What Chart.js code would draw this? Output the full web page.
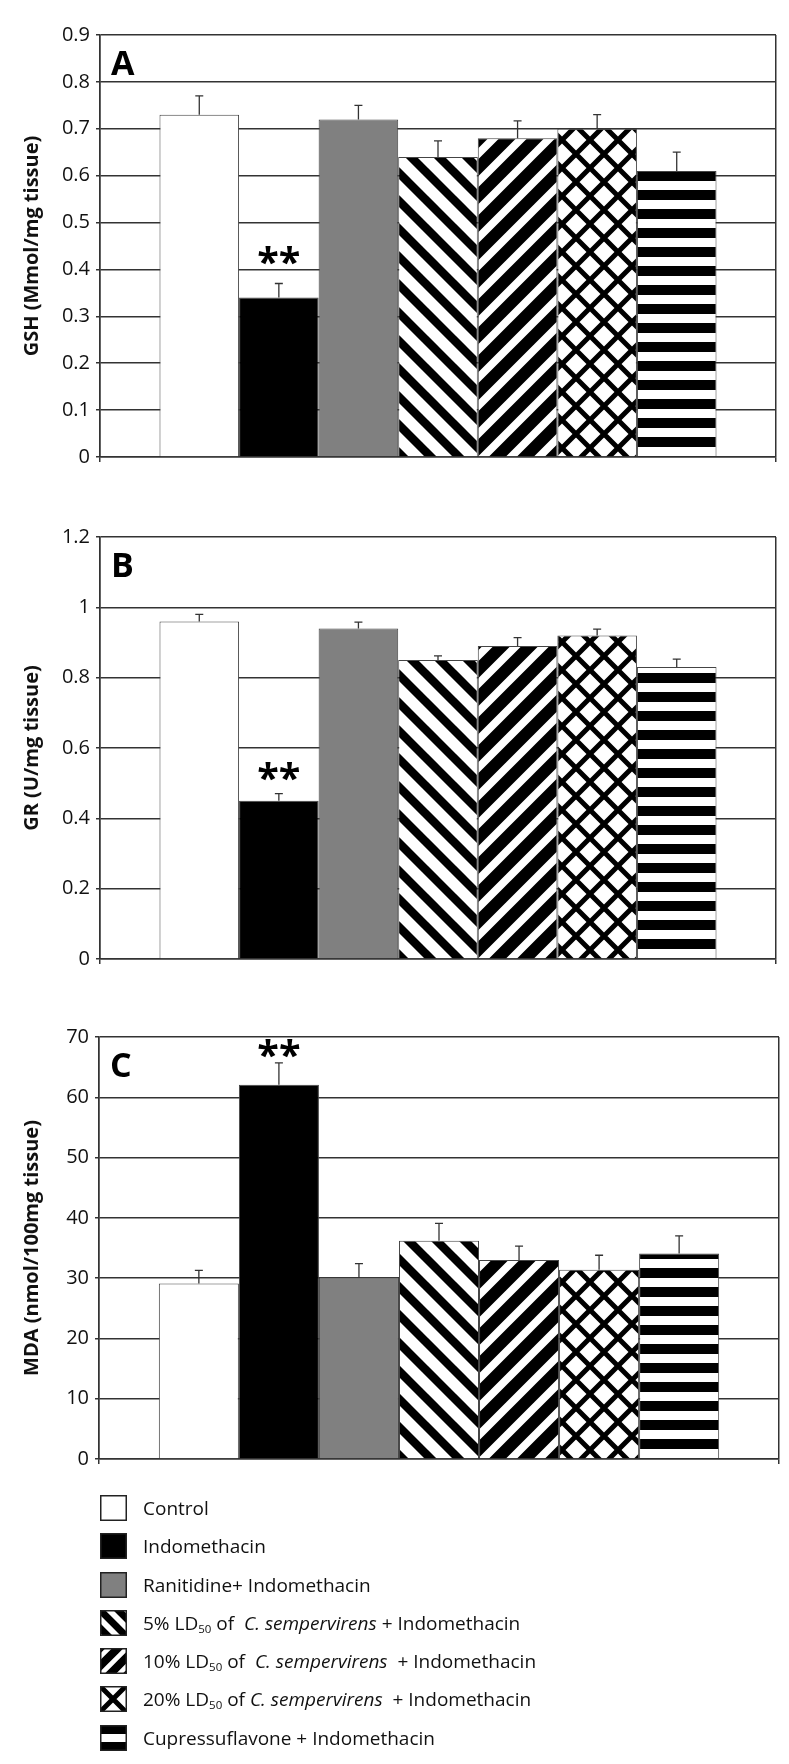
<!DOCTYPE html>
<html>
<head>
<meta charset="utf-8">
<script src="https://cdn.jsdelivr.net/npm/chart.js@4.4.1/dist/chart.umd.min.js"></script>
<style>
  html, body { margin: 0; padding: 0; background: #fff; }
  body { width: 789px; height: 1764px; position: relative; overflow: hidden; font-family: "Open Sans", sans-serif; color: #111; }
  .panel { position: absolute; left: 0; width: 789px; height: 475px; }
  #legend { position: absolute; left: 100px; top: 1495px; }
  .row { height: 38.3px; display: flex; align-items: flex-start; }
  .row canvas { display: block; }
  .row .lbl { margin-left: 16px; font-size: 19px; line-height: 26px; white-space: pre; }
  .sub { font-size: 11.5px; vertical-align: -3px; }
</style>
</head>
<body>
<div class="panel" style="top:0px"><canvas id="chart-a" width="789" height="475"></canvas></div>
<div class="panel" style="top:502px"><canvas id="chart-b" width="789" height="475"></canvas></div>
<div class="panel" style="top:1002px"><canvas id="chart-c" width="789" height="475"></canvas></div>
<div id="legend"></div>
<script>
'use strict';

const groups = [
  'Control',
  'Indomethacin',
  'Ranitidine+ Indomethacin',
  '5% LD50 of C. sempervirens + Indomethacin',
  '10% LD50 of C. sempervirens + Indomethacin',
  '20% LD50 of C. sempervirens + Indomethacin',
  'Cupressuflavone + Indomethacin'
];
const legendLabels = [
  'Control',
  'Indomethacin',
  'Ranitidine+ Indomethacin',
  '5% LD<span class="sub">50</span> of  <i>C. sempervirens</i> + Indomethacin',
  '10% LD<span class="sub">50</span> of  <i>C. sempervirens</i>  + Indomethacin',
  '20% LD<span class="sub">50</span> of <i>C. sempervirens</i>  + Indomethacin',
  'Cupressuflavone + Indomethacin'
];

// A: GSH
const gshMean = [0.73, 0.34, 0.72, 0.64, 0.68, 0.70, 0.61];
const gshErr  = [0.04, 0.03, 0.03, 0.034, 0.037, 0.03, 0.04];
const gshTicks = [0, 0.1, 0.2, 0.3, 0.4, 0.5, 0.6, 0.7, 0.8, 0.9];

// B: GR
const grMean = [0.96, 0.45, 0.94, 0.85, 0.89, 0.92, 0.83];
const grErr  = [0.02, 0.02, 0.018, 0.012, 0.024, 0.018, 0.023];
const grTicks = [0, 0.2, 0.4, 0.6, 0.8, 1, 1.2];

// C: MDA
const mdaMean = [29.1, 62.1, 30.1, 36.2, 33.0, 31.4, 34.1];
const mdaErr  = [2.2, 3.6, 2.3, 2.9, 2.3, 2.4, 2.9];
const mdaTicks = [0, 10, 20, 30, 40, 50, 60, 70];

const FONT = '"Open Sans"';

function makePattern(kind, S, w, shiftX) {
  const tile = document.createElement('canvas');
  tile.width = S; tile.height = S;
  const c = tile.getContext('2d');
  c.fillStyle = '#fff';
  c.fillRect(0, 0, S, S);
  c.strokeStyle = '#000';
  c.fillStyle = '#000';
  c.lineWidth = w;
  if (kind === 'horiz') {
    c.fillRect(0, 0, S, w);
  } else {
    c.beginPath();
    for (let k = -2; k <= 2; k++) {
      if (kind === 'back' || kind === 'cross') {
        c.moveTo(k * S - S, -S); c.lineTo(k * S + 2 * S, 2 * S);
      }
      if (kind === 'fwd' || kind === 'cross') {
        c.moveTo(k * S + S, -S); c.lineTo(k * S - 2 * S, 2 * S);
      }
    }
    c.stroke();
  }
  const pat = c.createPattern(tile, 'repeat');
  if (shiftX) pat.setTransform(new DOMMatrix().translate(shiftX, 0));
  return pat;
}

// the two diagonal fills meet in a chevron at the 5%/10% bar boundary
const fills = [
  '#ffffff', '#000000', '#808080',
  makePattern('back', 28, 8.5, 478),
  makePattern('fwd', 28, 12, 478),
  makePattern('cross', 28, 5, 478),
  makePattern('horiz', 19, 10)
];

const marksPlugin = {
  id: 'panelMarks',
  afterDatasetsDraw(chart, args, opts) {
    const { ctx, chartArea, scales: { y } } = chart;
    ctx.save();
    ctx.strokeStyle = '#333';
    ctx.lineWidth = 1.3;
    opts.err.forEach((e, i) => {
      const bar = chart.getDatasetMeta(i).data[0];
      const top = y.getPixelForValue(opts.mean[i] + e);
      ctx.beginPath();
      ctx.moveTo(bar.x, bar.y);
      ctx.lineTo(bar.x, top);
      ctx.moveTo(bar.x - 4, top);
      ctx.lineTo(bar.x + 4, top);
      ctx.stroke();
    });

    // significance stars over the indomethacin bar, sized to ~19px tall glyphs
    const s = opts.star;
    const sb = chart.getDatasetMeta(s).data[0];
    const sTop = y.getPixelForValue(opts.mean[s] + opts.err[s]);
    ctx.fillStyle = '#000';
    ctx.textAlign = 'center';
    ctx.textBaseline = 'alphabetic';
    ctx.font = 'bold 100px ' + FONT;
    let m = ctx.measureText('**');
    const size = 100 * 19 / (m.actualBoundingBoxAscent + m.actualBoundingBoxDescent);
    ctx.font = 'bold ' + size.toFixed(1) + 'px ' + FONT;
    m = ctx.measureText('**');
    ctx.fillText('**', sb.x, sTop - opts.starGap - m.actualBoundingBoxDescent);

    ctx.font = 'bold 34px ' + FONT;
    ctx.textAlign = 'left';
    ctx.fillText(opts.letter, chartArea.left + 11, chartArea.top + 40);
    ctx.restore();
  }
};

function makePanel(id, p) {
  const ink = '#333';
  return new Chart(document.getElementById(id), {
    type: 'bar',
    data: {
      labels: [''],
      datasets: groups.map((g, i) => ({
        label: g,
        data: [p.mean[i]],
        backgroundColor: fills[i],
        borderColor: '#444',
        borderWidth: 1,
        barPercentage: 1,
        categoryPercentage: 0.824
      }))
    },
    options: {
      responsive: false,
      animation: false,
      devicePixelRatio: 1,
      layout: { padding: { top: 35, right: 789 - p.right, bottom: 0, left: 0 } },
      plugins: {
        legend: { display: false },
        tooltip: { enabled: false },
        panelMarks: { mean: p.mean, err: p.err, letter: p.letter, star: 1, starGap: p.starGap }
      },
      scales: {
        x: {
          ticks: { display: false },
          grid: { color: ink, lineWidth: 1.5, tickLength: 5 },
          border: { color: ink, width: 1.5 },
          afterFit: s => { s.height = 15; }
        },
        y: {
          min: 0,
          max: p.ticks[p.ticks.length - 1],
          afterBuildTicks: s => { s.ticks = p.ticks.map(v => ({ value: v })); },
          ticks: {
            callback: v => String(v),
            font: { family: FONT, size: 20 },
            color: '#111',
            padding: 6
          },
          grid: { color: ink, lineWidth: 1.5, tickLength: 4 },
          border: { color: ink, width: 1.5 },
          title: {
            display: true,
            text: p.title,
            font: { family: FONT, size: 20, weight: 'bold' },
            color: '#111',
            padding: { top: 20, bottom: 0 }
          },
          afterFit: s => { s.width = p.left; }
        }
      }
    },
    plugins: [marksPlugin]
  });
}

makePanel('chart-a', { mean: gshMean, err: gshErr, ticks: gshTicks, title: 'GSH (Mmol/mg tissue)', letter: 'A', starGap: 19, left: 100, right: 776 });
makePanel('chart-b', { mean: grMean, err: grErr, ticks: grTicks, title: 'GR (U/mg tissue)', letter: 'B', starGap: 13, left: 100, right: 776 });
makePanel('chart-c', { mean: mdaMean, err: mdaErr, ticks: mdaTicks, title: 'MDA (nmol/100mg tissue)', letter: 'C', starGap: 5, left: 99, right: 779 });

// legend with pattern swatches
const swatchFills = [
  '#ffffff', '#000000', '#808080',
  makePattern('back', 18, 7),
  makePattern('fwd', 18, 8),
  makePattern('cross', 26, 5),
  makePattern('horiz', 17, 9)
];
const legendEl = document.getElementById('legend');
legendLabels.forEach((html, i) => {
  const row = document.createElement('div');
  row.className = 'row';
  const cv = document.createElement('canvas');
  cv.width = 27; cv.height = 26;
  const c = cv.getContext('2d');
  c.fillStyle = swatchFills[i];
  c.fillRect(0, 0, 27, 26);
  c.strokeStyle = '#222';
  c.lineWidth = 1.5;
  c.strokeRect(0.75, 0.75, 25.5, 24.5);
  const lbl = document.createElement('span');
  lbl.className = 'lbl';
  lbl.innerHTML = html;
  row.appendChild(cv);
  row.appendChild(lbl);
  legendEl.appendChild(row);
});
</script>
</body>
</html>
